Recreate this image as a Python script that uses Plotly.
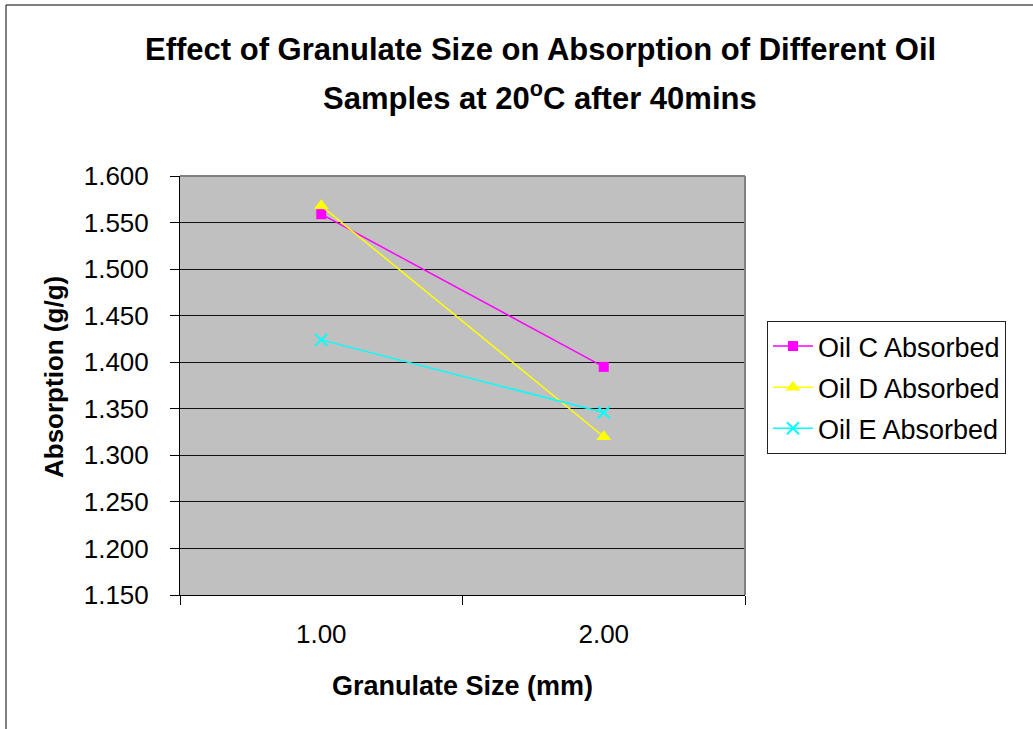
import plotly.graph_objects as go

# Granulate sizes (mm) and absorption results (g/g)
sizes = ["1.00", "2.00"]
oil_c = [1.559, 1.395]
oil_d = [1.568, 1.320]
oil_e = [1.424, 1.346]

W, H = 1033, 729
L, R, T, B = 180, 288, 176, 134
pw, ph = W - L - R, H - T - B

def px_x(x):
    return (x - L) / pw

def px_y(y):
    return (H - B - y) / ph

font_family = "Liberation Sans, Arial, sans-serif"

fig = go.Figure()
fig.add_trace(go.Scatter(
    x=sizes, y=oil_c, name="Oil C Absorbed", mode="lines+markers",
    legendgroup="c",
    line=dict(color="#FF00FF", width=1.5),
    marker=dict(symbol="square", size=10, color="#FF00FF")))
fig.add_trace(go.Scatter(
    x=sizes, y=oil_d, name="Oil D Absorbed", mode="lines+markers",
    legendgroup="d",
    line=dict(color="#FFFF00", width=1.5),
    marker=dict(symbol="triangle-up", size=13, color="#FFFF00")))
fig.add_trace(go.Scatter(
    x=sizes, y=oil_e, name="Oil E Absorbed", mode="lines+markers",
    legendgroup="e",
    line=dict(color="#00FFFF", width=1.5),
    marker=dict(symbol="x-thin", size=12, line=dict(color="#00FFFF", width=2))))

fig.update_layout(
    width=W, height=H,
    margin=dict(l=L, r=R, t=T, b=B),
    paper_bgcolor="white",
    plot_bgcolor="#C0C0C0",
    font=dict(family=font_family, size=20, color="black"),
    showlegend=True,
    legend=dict(
        x=px_x(767), y=px_y(321), xanchor="left", yanchor="top",
        bordercolor="#222222", borderwidth=1, bgcolor="white",
        font=dict(size=27), itemwidth=40, tracegroupgap=3),
    xaxis=dict(
        type="category", range=[-0.5, 1.5], tickson="boundaries",
        ticks="outside", ticklen=9, tickcolor="black", ticklabelstandoff=16,
        showline=True, linecolor="black", linewidth=1,
        showgrid=False, tickfont=dict(size=26)),
    yaxis=dict(
        range=[1.15, 1.6], dtick=0.05, tick0=1.15, tickformat=".3f",
        ticks="outside", ticklen=9, tickcolor="black", ticklabelstandoff=16,
        showline=True, linecolor="black", linewidth=1,
        showgrid=True, gridcolor="#111111", gridwidth=1,
        zeroline=False, tickfont=dict(size=26)),
)

# Two-line chart title
fig.add_annotation(
    x=px_x(540), y=px_y(49), xref="paper", yref="paper", showarrow=False,
    text="<b>Effect of Granulate Size on Absorption of Different Oil</b>",
    font=dict(size=31), xanchor="center", yanchor="middle")
fig.add_annotation(
    x=px_x(540), y=px_y(96), xref="paper", yref="paper", showarrow=False,
    text="<b>Samples at 20<sup>o</sup>C after 40mins</b>",
    font=dict(size=31), xanchor="center", yanchor="middle")

# Axis titles
fig.add_annotation(
    x=px_x(462), y=px_y(686), xref="paper", yref="paper", showarrow=False,
    text="<b>Granulate Size (mm)</b>", font=dict(size=27),
    xanchor="center", yanchor="middle")
fig.add_annotation(
    x=px_x(54), y=px_y(377), xref="paper", yref="paper", showarrow=False,
    text="<b>Absorption (g/g)</b>", font=dict(size=26), textangle=-90,
    xanchor="center", yanchor="middle")

# Grey top and right edges of the plot frame
fig.add_shape(type="line", xref="paper", yref="paper", x0=0, x1=1, y0=1, y1=1,
              line=dict(color="#808080", width=2))
fig.add_shape(type="line", xref="paper", yref="paper", x0=1, x1=1, y0=0, y1=1,
              line=dict(color="#808080", width=2))

# Chart-area border
fig.add_shape(
    type="rect", xref="paper", yref="paper",
    x0=px_x(6), y0=px_y(740), x1=px_x(1040), y1=px_y(5),
    line=dict(color="black", width=1), layer="below")

fig.write_html("out.html")
